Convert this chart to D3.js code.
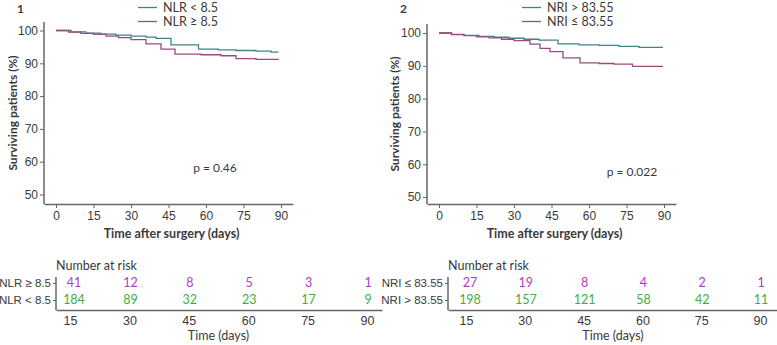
<!DOCTYPE html>
<html>
<head>
<meta charset="utf-8">
<script src="https://cdn.jsdelivr.net/npm/d3@7"></script>
<style>
  body { margin: 0; background: #fff; }
  svg { display: block; font-family: Lato, "Open Sans", sans-serif; }
</style>
</head>
<body>
<svg id="chart" width="777" height="345"></svg>
<script>
// Survival curves (time in days, survival in %)
const nlrLowTimes = [0, 6, 12, 18, 24, 30, 36, 40, 46, 57, 65, 72, 80, 86, 89];
const nlrLowSurv = [100, 99.6, 99.2, 98.9, 98.6, 98.3, 98.0, 97.6, 95.6, 94.3, 94.1, 93.9, 93.7, 93.4, 93.4];
const nlrHighTimes = [0, 5, 10, 15, 20, 25, 30, 36, 42, 47.6, 58, 66, 72, 80, 89];
const nlrHighSurv = [100, 99.5, 99.1, 98.8, 98.3, 97.8, 97.2, 95.9, 94.3, 92.8, 92.6, 92.3, 91.4, 91.2, 91.1];

const nriHighTimes = [0, 5, 10, 16, 22, 28, 34, 40, 47.6, 56, 64, 72, 80, 89.6];
const nriHighSurv = [100, 99.6, 99.3, 99.0, 98.7, 98.4, 98.1, 97.8, 96.7, 96.4, 96.2, 95.9, 95.6, 95.6];
const nriLowTimes = [0, 5, 10, 15, 20, 25, 30, 36.4, 40.4, 44.4, 49.6, 56.4, 64, 70, 77.4, 89.6];
const nriLowSurv = [100, 99.5, 99.2, 98.8, 98.5, 98.1, 97.7, 96.6, 95.3, 94.3, 92.4, 90.9, 90.7, 90.5, 89.8, 89.8];

// Axis ticks
const xTicks = [0, 15, 30, 45, 60, 75, 90];
const yTicks = [50, 60, 70, 80, 90, 100];

// Number at risk
const riskTimes = [15, 30, 45, 60, 75, 90];
const nlrHighRisk = [41, 12, 8, 5, 3, 1];
const nlrLowRisk = [184, 89, 32, 23, 17, 9];
const nriLowRisk = [27, 19, 8, 4, 2, 1];
const nriHighRisk = [198, 157, 121, 58, 42, 11];

const COLORS = {
  teal: "#3f8488",
  mauve: "#9a4b7c",
  magenta: "#b03cc4",
  green: "#3fae3f",
  axis: "#666",
  text: "#3a3a3a",
};

const panels = [
  {
    label: "1",
    plot: { x0: 44, x1: 293, y0: 22, y1: 204, y100: 30.5, y50: 194.5 },
    risk: { x0: 56, x1: 382, t15: 70, t90: 367 },
    legendX: 138,
    yTitleX: 13,
    pText: "p = 0.46", pPos: [215, 172],
    series: [
      { name: "NLR < 8.5", times: nlrLowTimes, surv: nlrLowSurv, color: COLORS.teal },
      { name: "NLR \u2265 8.5", times: nlrHighTimes, surv: nlrHighSurv, color: COLORS.mauve },
    ],
    riskRows: [
      { name: "NLR \u2265 8.5", values: nlrHighRisk, color: COLORS.magenta },
      { name: "NLR < 8.5", values: nlrLowRisk, color: COLORS.green },
    ],
  },
  {
    label: "2",
    plot: { x0: 427, x1: 676, y0: 24, y1: 204, y100: 33, y50: 197 },
    risk: { x0: 448, x1: 777, t15: 466, t90: 760 },
    legendX: 522,
    yTitleX: 395,
    pText: "p = 0.022", pPos: [632, 176],
    series: [
      { name: "NRI > 83.55", times: nriHighTimes, surv: nriHighSurv, color: COLORS.teal },
      { name: "NRI \u2264 83.55", times: nriLowTimes, surv: nriLowSurv, color: COLORS.mauve },
    ],
    riskRows: [
      { name: "NRI \u2264 83.55", values: nriLowRisk, color: COLORS.magenta },
      { name: "NRI > 83.55", values: nriHighRisk, color: COLORS.green },
    ],
  },
];

const svg = d3.select("#chart");

function styleAxis(g, fontSize) {
  g.select(".domain").attr("stroke", COLORS.axis).attr("stroke-width", 1.5);
  g.selectAll(".tick line").attr("stroke", COLORS.axis);
  g.selectAll(".tick text")
    .attr("fill", COLORS.text)
    .style("font-size", fontSize || "12px");
}

function drawPanel(p) {
  const g = svg.append("g");
  const pl = p.plot;

  // panel number
  g.append("text")
    .attr("x", pl.x0 - 27).attr("y", 13)
    .style("font-size", "12px").style("font-weight", "bold")
    .attr("fill", COLORS.text)
    .text(p.label);

  // scales: x(0) sits 12px right of the axis, 2.5 px per day
  const xScale = d3.scaleLinear()
    .domain([-4.8, 94.8])
    .range([pl.x0, pl.x1]);

  const yScale = d3.scaleLinear()
    .domain([50, 100])
    .range([pl.y50, pl.y100]);

  // Y axis
  const yAxis = g.append("g")
    .attr("transform", `translate(${pl.x0},0)`)
    .call(d3.axisLeft(yScale).tickValues(yTicks).tickSize(4).tickPadding(2).tickSizeOuter(0));
  yAxis.select(".domain").attr("d", `M0,${pl.y0}V${pl.y1}`);
  styleAxis(yAxis);

  // X axis
  const xAxis = g.append("g")
    .attr("transform", `translate(0,${pl.y1})`)
    .call(d3.axisBottom(xScale).tickValues(xTicks).tickSize(4).tickPadding(3).tickSizeOuter(0));
  styleAxis(xAxis);

  // axis titles
  g.append("text")
    .attr("transform", `translate(${p.yTitleX},${(pl.y0 + pl.y1) / 2}) rotate(-90)`)
    .attr("text-anchor", "middle")
    .attr("dy", "0.35em")
    .style("font-size", "12px").style("font-weight", "bold")
    .attr("fill", COLORS.text)
    .text("Surviving patients (%)");

  g.append("text")
    .attr("x", xScale(45) + 3).attr("y", pl.y1 + 34)
    .attr("text-anchor", "middle")
    .style("font-size", "12.5px").style("font-weight", "bold")
    .attr("fill", COLORS.text)
    .text("Time after surgery (days)");

  // curves
  const line = d3.line()
    .x((d) => xScale(d[0]))
    .y((d) => yScale(d[1]))
    .curve(d3.curveStepAfter);

  p.series.forEach((s) => {
    const pts = s.times.map((t, i) => [t, s.surv[i]]);
    g.append("path")
      .datum(pts)
      .attr("d", line)
      .attr("fill", "none")
      .attr("stroke", s.color)
      .attr("stroke-width", 1.3);
  });

  // legend
  p.series.forEach((s, i) => {
    const ly = 7.5 + i * 14;
    g.append("line")
      .attr("x1", p.legendX).attr("x2", p.legendX + 19)
      .attr("y1", ly).attr("y2", ly)
      .attr("stroke", s.color).attr("stroke-width", 1.3);
    g.append("text")
      .attr("x", p.legendX + 25).attr("y", ly)
      .attr("dy", "0.35em")
      .style("font-size", "12.5px")
      .attr("fill", COLORS.text)
      .text(s.name);
  });

  // p value
  g.append("text")
    .attr("x", p.pPos[0]).attr("y", p.pPos[1])
    .attr("text-anchor", "middle")
    .style("font-size", "12px")
    .attr("fill", COLORS.text)
    .text(p.pText);

  // number at risk table
  const r = p.risk;
  const step = (r.t90 - r.t15) / 75;
  const rxScale = d3.scaleLinear()
    .domain([15 - (r.t15 - r.x0) / step, 90 + (r.x1 - r.t90) / step])
    .range([r.x0, r.x1]);

  const ryScale = d3.scalePoint()
    .domain(p.riskRows.map((d) => d.name))
    .range([283, 300]);

  g.append("text")
    .attr("x", r.x0).attr("y", 270)
    .style("font-size", "12.5px")
    .attr("fill", COLORS.text)
    .text("Number at risk");

  const rx = g.append("g")
    .attr("transform", "translate(0,310)")
    .call(d3.axisBottom(rxScale).tickValues(riskTimes).tickSize(0).tickPadding(6));
  styleAxis(rx, "12.5px");

  const ry = g.append("g")
    .attr("transform", `translate(${r.x0},0)`)
    .call(d3.axisLeft(ryScale).tickSize(3).tickPadding(2).tickSizeOuter(0));
  ry.select(".domain").attr("d", "M0,277V310");
  styleAxis(ry, "11.5px");

  p.riskRows.forEach((row) => {
    g.selectAll(null)
      .data(row.values)
      .enter()
      .append("text")
      .attr("x", (d, i) => rxScale(riskTimes[i]) + (i === 0 ? 4 : 1))
      .attr("y", ryScale(row.name))
      .attr("dy", "0.35em")
      .attr("text-anchor", "middle")
      .style("font-size", "12.5px")
      .attr("fill", row.color)
      .text((d) => d);
  });

  g.append("text")
    .attr("x", rxScale(52.5)).attr("y", 340)
    .attr("text-anchor", "middle")
    .style("font-size", "12.5px")
    .attr("fill", COLORS.text)
    .text("Time (days)");
}

panels.forEach(drawPanel);
</script>
</body>
</html>
